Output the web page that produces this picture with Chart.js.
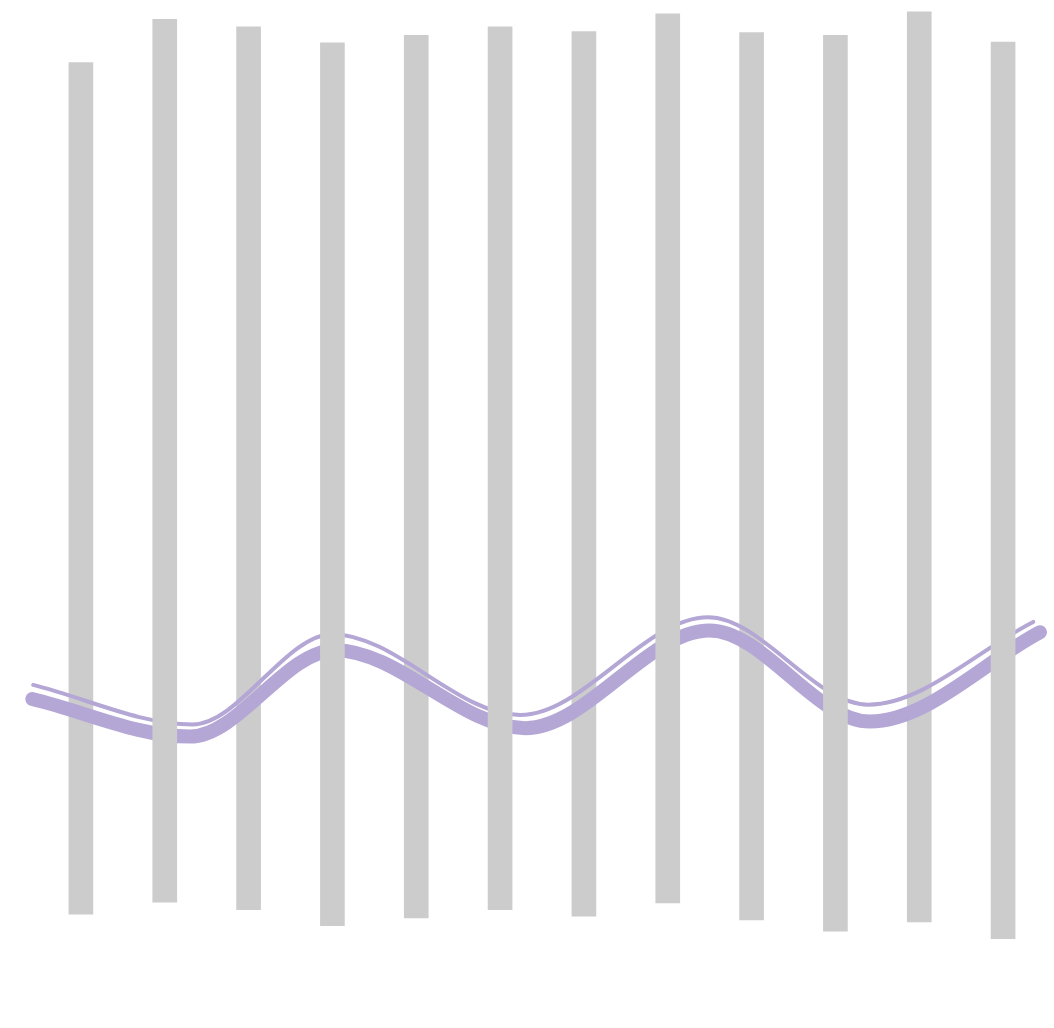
<!DOCTYPE html>
<html>
<head>
<meta charset="utf-8">
<script src="https://cdn.jsdelivr.net/npm/chart.js@4/dist/chart.umd.min.js"></script>
<style>
  html, body { margin: 0; padding: 0; background: #ffffff; }
  #wrap { width: 1054px; height: 1028px; position: relative; }
</style>
</head>
<body>
<div id="wrap"><canvas id="c" width="1054" height="1028"></canvas></div>
<script>
// Categories (no labels shown in the picture)
const categories = ['1', '2', '3', '4', '5', '6', '7', '8', '9', '10', '11', '12'];

// Floating bar ranges [low, high] (0-100 scale)
const barLow  = [3.8, 5.1, 4.3, 2.6, 3.4, 4.3, 3.6, 5.0, 3.2, 2.0, 3.0, 1.2];
const barHigh = [94.4, 99.0, 98.2, 96.5, 97.3, 98.2, 97.7, 99.6, 97.6, 97.3, 99.8, 96.6];

// Wavy line: x positions in category units, y values
const waveX     = [-0.58, 1.30, 3.03, 5.30, 7.50, 9.41, 11.44];
const waveThick = [26.7, 22.7, 31.9, 23.6, 34.0, 24.3, 33.8];
const waveThinX = [-0.57, 1.33, 3.00, 5.24, 7.48, 9.39, 11.36];
const waveThin  = [28.2, 24.0, 33.6, 25.0, 35.4, 26.1, 34.9];

const barColor = '#cccccc';
const lineColor = '#b4a7d6';

// odd bars sit under the line, even bars over it
const backBars = categories.map((c, i) => i % 2 === 0 ? [barLow[i], barHigh[i]] : null);
const frontBars = categories.map((c, i) => i % 2 === 1 ? [barLow[i], barHigh[i]] : null);

function points(xs, ys) {
    return xs.map((x, i) => ({ x: x, y: ys[i] }));
}

new Chart(document.getElementById('c'), {
    data: {
        labels: categories,
        datasets: [
            {
                type: 'bar',
                data: backBars,
                backgroundColor: barColor,
                barThickness: 24,
                grouped: false,
                xAxisID: 'x',
                order: 3
            },
            {
                type: 'line',
                data: points(waveX, waveThick),
                borderColor: lineColor,
                borderWidth: 14,
                borderCapStyle: 'round',
                cubicInterpolationMode: 'monotone',
                pointRadius: 0,
                fill: false,
                clip: false,
                xAxisID: 'x2',
                order: 2
            },
            {
                type: 'line',
                data: points(waveThinX, waveThin),
                borderColor: lineColor,
                borderWidth: 4,
                borderCapStyle: 'round',
                cubicInterpolationMode: 'monotone',
                pointRadius: 0,
                fill: false,
                clip: false,
                xAxisID: 'x2',
                order: 2
            },
            {
                type: 'bar',
                data: frontBars,
                backgroundColor: barColor,
                barThickness: 24,
                grouped: false,
                xAxisID: 'x',
                order: 1
            }
        ]
    },
    options: {
        responsive: false,
        animation: false,
        layout: { padding: { left: 39, right: 9, top: 10, bottom: 78 } },
        plugins: {
            legend: { display: false },
            tooltip: { enabled: false }
        },
        scales: {
            x: { type: 'category', display: false, offset: true },
            x2: { type: 'linear', display: false, min: -0.5, max: 11.5 },
            y: { display: false, min: 0, max: 100 }
        }
    }
});
</script>
</body>
</html>
